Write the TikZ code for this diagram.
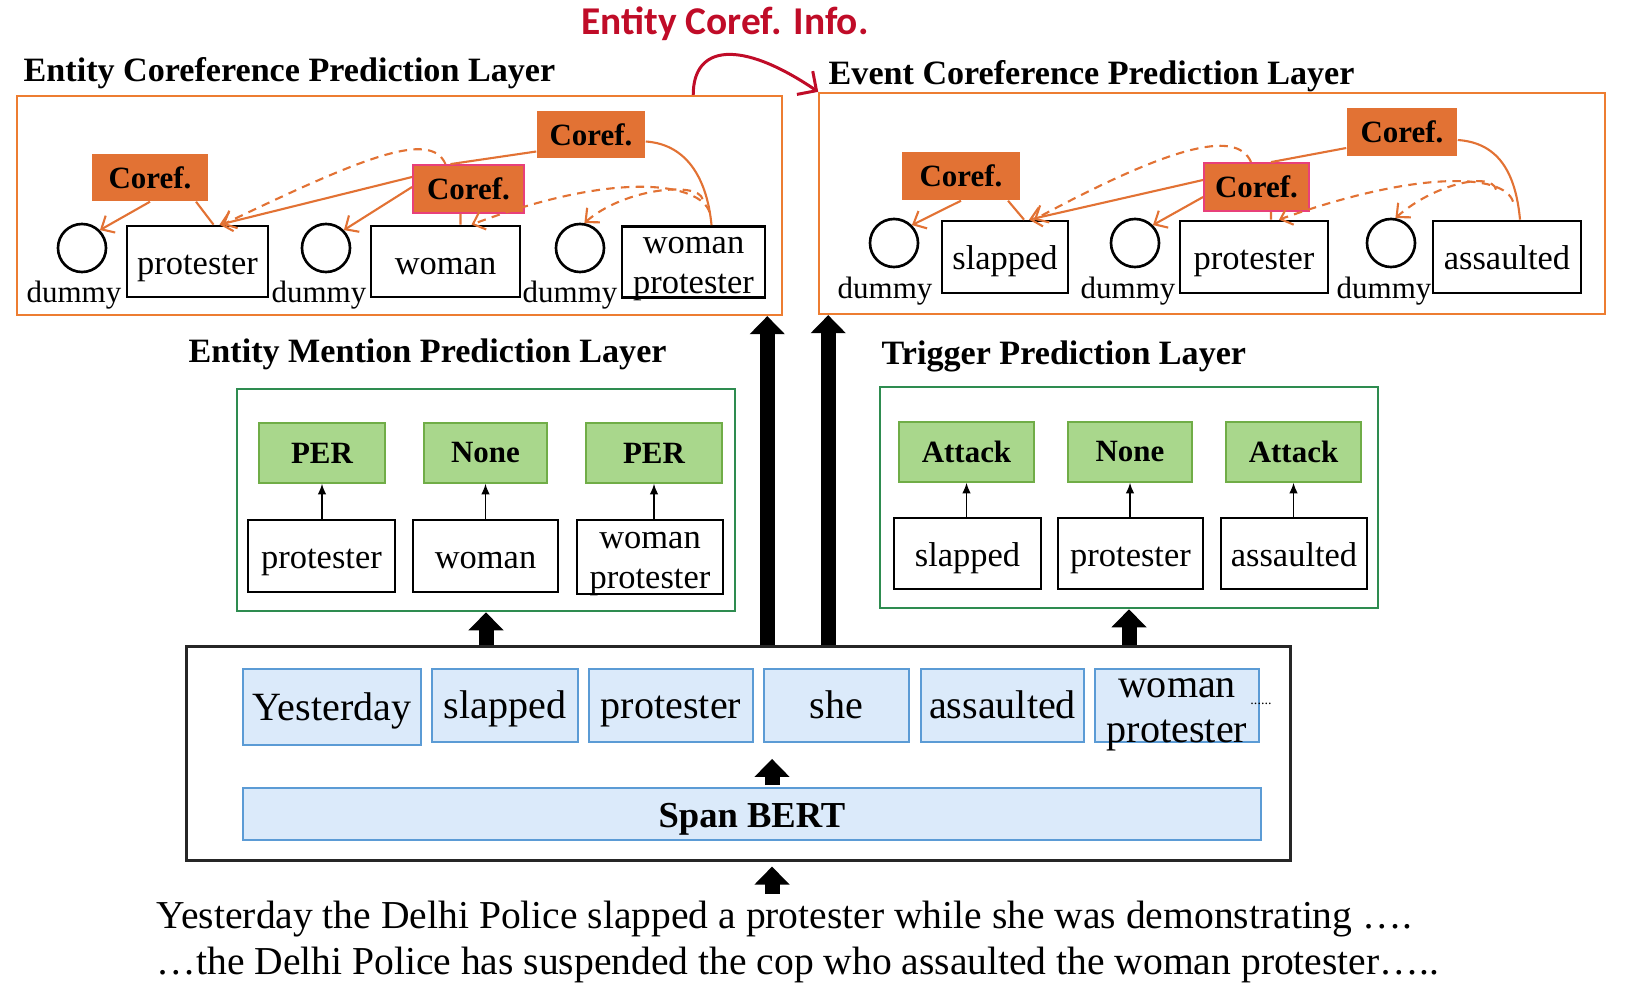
\documentclass[tikz,border=0pt]{standalone}
\usepackage{fontspec}
\setmainfont{Liberation Serif}
\newfontfamily\infofont{Carlito}
\usetikzlibrary{arrows.meta}

\definecolor{corefor}{RGB}{226,114,52}
\definecolor{frameor}{RGB}{237,125,49}
\definecolor{corefpink}{RGB}{232,64,122}
\definecolor{tagfill}{RGB}{169,215,140}
\definecolor{tagedge}{RGB}{112,173,71}
\definecolor{framegreen}{RGB}{46,140,80}
\definecolor{tokfill}{RGB}{219,234,250}
\definecolor{tokedge}{RGB}{91,155,213}
\definecolor{infored}{RGB}{192,12,40}

\newcommand*{\wordsize}{\fontsize{9.8}{11.4}\selectfont}
\newcommand*{\toksize}{\fontsize{11.4}{12.8}\selectfont}
\newcommand*{\tagsize}{\fontsize{8.8}{10}\selectfont\bfseries}
\newcommand*{\twolines}[3]{\raisebox{#1}[0pt][0pt]{\begin{tabular}{@{}c@{}}#2\\#3\end{tabular}}}

\begin{document}
\begin{tikzpicture}[x=0.01cm, y=-0.01cm,
    laytitle/.style={anchor=base west, inner sep=0pt, font=\fontsize{9.7}{11}\selectfont\bfseries},
    layframe/.style={draw, inner sep=0pt},
    word/.style={draw, line width=0.75pt, inner sep=0pt, text height=8.8pt, text depth=1.6pt, font=\wordsize},
    dummy/.style={circle, draw, line width=0.75pt, minimum size=0.48cm, inner sep=0pt},
    dummytext/.style={anchor=base, inner sep=0pt, font=\fontsize{8.8}{10}\selectfont},
    coref/.style={fill=corefor, inner sep=0pt, minimum height=0.47cm, font=\tagsize},
    tag/.style={fill=tagfill, draw=tagedge, line width=0.4pt, inner sep=0pt, minimum height=0.6cm, font=\tagsize},
    token/.style={fill=tokfill, draw=tokedge, line width=0.5pt, inner sep=0pt, minimum height=0.73cm, text height=9pt, text depth=1.6pt, font=\toksize},
    link/.style={draw=corefor, line width=0.6pt},
    linkarrow/.style={link, -{Straight Barb[length=3pt, width=5.5pt]}},
    dashlink/.style={linkarrow, dash pattern=on 2.4pt off 1.8pt},
    thinup/.style={-{Latex[length=3pt, width=2.4pt]}, line width=0.45pt},
    fatup/.style={line width=0.15cm, -{Triangle[length=0.18cm, width=0.34cm]}},
]
% outline
\useasboundingbox (0,0) rectangle (1640,998);

% coreference layers
\node[anchor=base, inner sep=0pt, text=infored, font=\infofont\fontsize{11.2}{12}\selectfont\bfseries] (info) at (725,35) {Entity Coref. Info.};
\node[laytitle] (enttitle) at (23,82) {Entity Coreference Prediction Layer};
\node[laytitle] (evttitle) at (828,85) {Event Coreference Prediction Layer};
\node[layframe, draw=frameor, line width=0.6pt, minimum width=7.65cm, minimum height=2.19cm] (entframe) at (399.5,205.5) {};
\node[layframe, draw=frameor, line width=0.6pt, minimum width=7.85cm, minimum height=2.21cm] (evtframe) at (1212,203.5) {};
\draw[infored, line width=0.85pt, -{Straight Barb[length=4pt, width=8pt]}] ([xshift=-0.9cm]entframe.north east) .. controls +(0,-50) and +(-78,-53) .. (evtframe.north west);

% entity coreference
\node[dummy] (ed1) at (82,248) {};
\node[dummytext] (edt1) at (74,303) {dummy};
\node[word, minimum width=1.41cm, minimum height=0.71cm] (ew1) at (197.5,261.5) {protester};
\node[dummy] (ed2) at (326,248) {};
\node[dummytext] (edt2) at (319,303) {dummy};
\node[word, minimum width=1.49cm, minimum height=0.71cm] (ew2) at (445.5,261.5) {woman};
\node[dummy] (ed3) at (580,248) {};
\node[dummytext] (edt3) at (570,303) {dummy};
\node[word, minimum width=1.43cm, minimum height=0.71cm] (ew3) at (693.5,262) {\twolines{0.2pt}{woman}{protester}};
\node[coref, minimum width=1.16cm] (ec1) at (150,177.5) {Coref.};
\node[coref, draw=corefpink, line width=0.5pt, minimum width=1.11cm, minimum height=0.48cm] (ec2) at (468.5,189) {Coref.};
\node[coref, minimum width=1.08cm] (ec3) at (591,134.5) {Coref.};

\draw[linkarrow] (ec1.south) -- (ed1.north east);
\draw[link] ([xshift=0.16cm]ew1.north) -- ([xshift=0.46cm]ec1.south);
\draw[linkarrow] ([yshift=0.12cm]ec2.west) -- ([xshift=0.22cm]ew1.north);
\draw[linkarrow] ([yshift=0.02cm]ec2.west) -- (ed2.north east);
\draw[link] ([xshift=-0.08cm]ec2.south) -- ([xshift=0.15cm]ew2.north);
\draw[link] ([yshift=-0.17cm]ec3.west) -- ([xshift=-0.18cm]ec2.north);
\draw[dashlink] ([xshift=-0.23cm]ec2.north) .. controls +(-15,-35) and +(138,-66) .. ([xshift=0.25cm]ew1.north);
\draw[link] ([yshift=-0.07cm]ec3.east) .. controls +(44,3) and +(-4,-42) .. ([xshift=0.18cm]ew3.north);
\draw[dashlink] ([xshift=0.16cm, yshift=0.13cm]ew3.north) .. controls +(-9,-28) and +(149,-56) .. ([xshift=0.26cm]ew2.north);
\draw[dashlink] ([xshift=0.09cm, yshift=0.26cm]ew3.north) .. controls +(-4,-18) and +(40,-35) .. (ed3.80);

% event coreference
\node[dummy] (vd1) at (894,243) {};
\node[dummytext] (vdt1) at (885,299) {dummy};
\node[word, minimum width=1.26cm, minimum height=0.72cm] (vw1) at (1005,257) {slapped};
\node[dummy] (vd2) at (1135,243) {};
\node[dummytext] (vdt2) at (1128,299) {dummy};
\node[word, minimum width=1.48cm, minimum height=0.72cm] (vw2) at (1254,257) {protester};
\node[dummy] (vd3) at (1391,243) {};
\node[dummytext] (vdt3) at (1384,299) {dummy};
\node[word, minimum width=1.48cm, minimum height=0.72cm] (vw3) at (1507,257) {assaulted};
\node[coref, minimum width=1.18cm, minimum height=0.48cm] (vc1) at (961,176) {Coref.};
\node[coref, draw=corefpink, line width=0.5pt, minimum width=1.05cm, minimum height=0.48cm] (vc2) at (1256.5,187) {Coref.};
\node[coref, minimum width=1.10cm, minimum height=0.48cm] (vc3) at (1402,132) {Coref.};

\draw[linkarrow] (vc1.south) -- (vd1.north east);
\draw[link] ([xshift=0.19cm]vw1.north) -- ([xshift=0.47cm]vc1.south);
\draw[linkarrow] ([yshift=0.07cm]vc2.west) -- ([xshift=0.24cm]vw1.north);
\draw[linkarrow] ([yshift=-0.1cm]vc2.west) -- (vd2.north east);
\draw[link] ([xshift=0.145cm]vc2.south) -- ([xshift=0.17cm]vw2.north);
\draw[link] ([yshift=-0.16cm]vc3.west) -- ([xshift=0.145cm]vc2.north);
\draw[dashlink] ([xshift=-0.055cm]vc2.north) .. controls +(-15,-35) and +(130,-70) .. ([xshift=0.29cm]vw1.north);
\draw[link] ([yshift=-0.08cm]vc3.east) .. controls +(44,3) and +(-4,-42) .. ([xshift=0.13cm]vw3.north);
\draw[dashlink] ([xshift=0.06cm, yshift=0.18cm]vw3.north) .. controls +(-9,-28) and +(140,-50) .. ([xshift=0.25cm]vw2.north);
\draw[dashlink] ([xshift=-0.11cm, yshift=0.3cm]vw3.north) .. controls +(-4,-18) and +(40,-35) .. (vd3.80);

% entity mention layer
\node[laytitle] (mentitle) at (188,363) {Entity Mention Prediction Layer};
\node[layframe, draw=framegreen, line width=0.7pt, minimum width=4.98cm, minimum height=2.22cm] (menframe) at (486,500) {};
\node[tag, minimum width=1.26cm] (mt1) at (322,453) {PER};
\node[tag, minimum width=1.23cm] (mt2) at (485.5,453) {None};
\node[tag, minimum width=1.36cm] (mt3) at (654,453) {PER};
\node[word, minimum width=1.47cm, minimum height=0.72cm] (mw1) at (321.5,556) {protester};
\node[word, minimum width=1.45cm, minimum height=0.72cm] (mw2) at (485.5,556) {woman};
\node[word, minimum width=1.46cm, minimum height=0.74cm] (mw3) at (650,557) {\twolines{0pt}{woman}{protester}};
\foreach \i in {1,2,3} {
    \draw[thinup] (mt\i.south |- mw\i.north) -- (mt\i.south);
}

% trigger layer
\node[laytitle] (trgtitle) at (881,365) {Trigger Prediction Layer};
\node[layframe, draw=framegreen, line width=0.7pt, minimum width=4.98cm, minimum height=2.21cm] (trgframe) at (1129,497.5) {};
\node[tag, minimum width=1.35cm] (tt1) at (966.5,452) {Attack};
\node[tag, minimum width=1.24cm] (tt2) at (1130,452) {None};
\node[tag, minimum width=1.35cm] (tt3) at (1293.5,452) {Attack};
\node[word, minimum width=1.47cm, minimum height=0.71cm] (tw1) at (967.5,553.5) {slapped};
\node[word, minimum width=1.45cm, minimum height=0.71cm] (tw2) at (1130.5,553.5) {protester};
\node[word, minimum width=1.46cm, minimum height=0.71cm] (tw3) at (1294,553.5) {assaulted};
\foreach \i in {1,2,3} {
    \draw[thinup] (tt\i.south |- tw\i.north) -- (tt\i.south);
}

% encoder
\node[layframe, draw=black!85, line width=0.85pt, minimum width=11.03cm, minimum height=2.13cm] (encframe) at (738.5,753.5) {};
\node[token, minimum width=1.78cm, minimum height=0.76cm] (tk1) at (332,707) {Yesterday};
\node[token, minimum width=1.46cm] (tk2) at (505,705.5) {slapped};
\node[token, minimum width=1.64cm] (tk3) at (671,705.5) {protester};
\node[token, minimum width=1.45cm] (tk4) at (836.5,705.5) {she};
\node[token, minimum width=1.63cm] (tk5) at (1002.5,705.5) {assaulted};
\node[token, minimum width=1.64cm] (tk6) at (1177,705.5) {\twolines{-0.7pt}{woman}{protester}};
\node[inner sep=0pt, font=\fontsize{4}{4}\selectfont] (tkdots) at (1261,704) {......};
\node[token, minimum width=10.18cm, minimum height=0.52cm, font=\fontsize{10.4}{12}\selectfont\bfseries] (bert) at (752,814) {Span BERT};

% input text
\node[anchor=base west, inner sep=0pt, font=\fontsize{11.25}{12}\selectfont] (sent1) at (156,928) {Yesterday the Delhi Police slapped a protester while she was demonstrating ….};
\node[anchor=base west, inner sep=0pt, font=\fontsize{11.25}{12}\selectfont] (sent2) at (156,974) {…the Delhi Police has suspended the cop who assaulted the woman protester…..};

% thick arrows
\coordinate (entup) at ([xshift=-0.16cm]entframe.south east);
\coordinate (evtup) at ([xshift=0.1cm]evtframe.south west);
\coordinate (textup) at ([xshift=0.2cm]bert.south);
\draw[fatup] (encframe.north -| entup) -- (entup);
\draw[fatup] (encframe.north -| evtup) -- (evtup);
\draw[fatup] (encframe.north -| menframe.south) -- (menframe.south);
\draw[fatup] (encframe.north -| trgframe.south) -- (trgframe.south);
\draw[fatup, shorten <=0.02cm, shorten >=0.16cm] ([xshift=0.2cm]bert.north) -- ([xshift=0.2cm]bert.north |- tk4.south);
\draw[fatup, shorten <=0.06cm, shorten >=0.05cm] (sent1.north -| textup) -- (encframe.south -| textup);

\end{tikzpicture}
\end{document}
